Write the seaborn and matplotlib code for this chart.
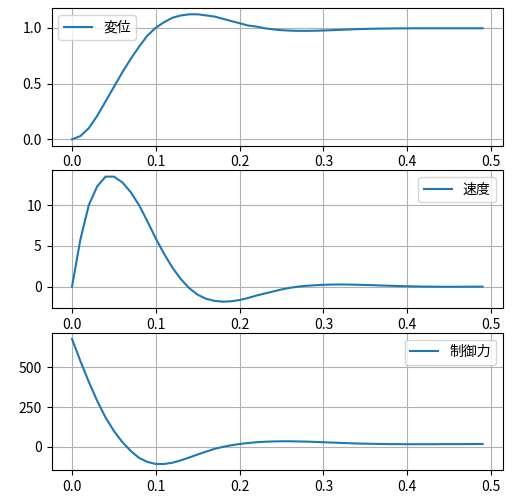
import matplotlib
matplotlib.use("Agg")
import matplotlib.pyplot as plt
import seaborn as sns
import numpy as np

plt.rcParams['font.family'] = ['Noto Sans CJK JP', 'DejaVu Sans']
plt.rcParams['axes.unicode_minus'] = False

t = [round(i * 0.01, 2) for i in range(50)]
displacement = [0, 0.03, 0.1, 0.21, 0.34, 0.47, 0.6, 0.72, 0.83, 0.93,
                1.0, 1.05, 1.09, 1.11, 1.12, 1.12, 1.11, 1.10, 1.08, 1.06,
                1.04, 1.02, 1.01, 0.995, 0.985, 0.978, 0.974, 0.972, 0.972, 0.973,
                0.975, 0.978, 0.981, 0.984, 0.987, 0.989, 0.991, 0.992, 0.993, 0.994,
                0.994, 0.995, 0.995, 0.995, 0.995, 0.995, 0.995, 0.995, 0.995, 0.995]
velocity = [0, 5.8, 10, 12.3, 13.5, 13.5, 12.8, 11.6, 10.0, 8.0,
            5.9, 4.0, 2.3, 0.9, -0.2, -1.0, -1.5, -1.75, -1.85, -1.8,
            -1.65, -1.4, -1.1, -0.85, -0.6, -0.35, -0.15, 0.0, 0.1, 0.17,
            0.22, 0.25, 0.26, 0.25, 0.23, 0.2, 0.17, 0.13, 0.1, 0.07,
            0.04, 0.02, 0.0, -0.01, -0.02, -0.02, -0.02, -0.01, -0.01, 0.0]
control = [680, 540, 410, 290, 185, 100, 30, -25, -70, -95,
           -108, -108, -100, -85, -67, -48, -30, -13, 0, 10,
           18, 24, 29, 32, 34, 35, 35, 34, 33, 31,
           29, 27, 25, 23, 21, 20, 19, 18, 17, 17,
           16.5, 16.5, 16.5, 16.5, 17, 17, 17, 17.5, 17.5, 18]

labels = ['変位', '速度', '制御力']
series = [displacement, velocity, control]
locs = ['upper left', 'upper right', 'upper right']

fig, axes = plt.subplots(3, 1, figsize=(5.15, 5.04), dpi=100)
for ax, y, lab, loc in zip(axes, series, labels, locs):
    sns.lineplot(x=t, y=y, ax=ax, label=lab, color='#1f77b4')
    ax.grid(True)
    ax.legend(loc=loc)
    ax.set_xticks([0.0, 0.1, 0.2, 0.3, 0.4, 0.5])
axes[0].set_yticks([0.0, 0.5, 1.0])
axes[1].set_yticks([0, 5, 10])
axes[2].set_yticks([0, 250, 500])
fig.subplots_adjust(left=0.10, right=0.977, top=0.984, bottom=0.067, hspace=0.18)
fig.savefig('out.png')
